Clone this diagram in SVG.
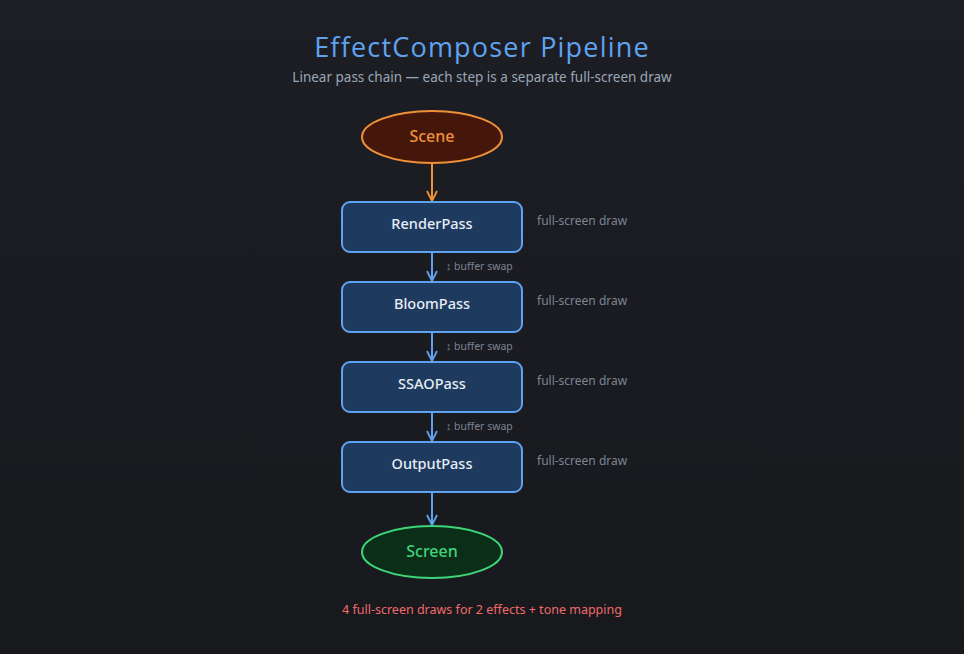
<svg xmlns="http://www.w3.org/2000/svg" width="964" height="654" viewBox="0 0 964 654">
<defs>
<linearGradient id="bg" x1="0" y1="0" x2="0" y2="1"><stop offset="0" stop-color="#1d1e24"/><stop offset="1" stop-color="#18191d"/></linearGradient>
<marker id="ab" viewBox="0 0 12 12" refX="11" refY="6" markerWidth="12" markerHeight="12" markerUnits="userSpaceOnUse" orient="auto"><path d="M1,1 L11,6 L1,11" fill="none" stroke="#5fa2f0" stroke-width="1.8"/></marker>
<marker id="ao" viewBox="0 0 12 12" refX="11" refY="6" markerWidth="12" markerHeight="12" markerUnits="userSpaceOnUse" orient="auto"><path d="M1,1 L11,6 L1,11" fill="none" stroke="#f0913a" stroke-width="1.8"/></marker>
</defs>
<style>
text{font-family:"Noto Sans","Open Sans",sans-serif;text-anchor:middle}
.box{fill:#1f3a5f;stroke:#5fa2f0;stroke-width:2}
.bl{fill:#e6edf6;font-size:14.5px;font-weight:500}
.side{fill:#7b8494;font-size:12px;text-anchor:start}
.sw{fill:#7b8494;font-size:10.5px;text-anchor:start}
.c{stroke:#5fa2f0;stroke-width:2;fill:none;marker-end:url(#ab)}
</style>
<rect width="964" height="654" fill="url(#bg)"/>
<text x="482" y="57" font-size="27" fill="#5fa2f0" letter-spacing="1.2" style="font-family:'Open Sans','Noto Sans',sans-serif">EffectComposer Pipeline</text>
<text x="482" y="82" font-size="13.5" fill="#9aa7b8">Linear pass chain — each step is a separate full-screen draw</text>
<g id="connectors">
<path d="M432,164 V201" stroke="#f0913a" stroke-width="2" fill="none" marker-end="url(#ao)"/>
<path class="c" d="M432,253 V281"/>
<path class="c" d="M432,333 V361"/>
<path class="c" d="M432,413 V441"/>
<path class="c" d="M432,493 V525"/>
<text class="sw" x="446" y="270">↕ buffer swap</text>
<text class="sw" x="446" y="350">↕ buffer swap</text>
<text class="sw" x="446" y="430">↕ buffer swap</text>
</g>
<g id="scene"><ellipse cx="432" cy="137" rx="70" ry="26" fill="#45170b" stroke="#f0913a" stroke-width="2"/><text x="432" y="142" font-size="16" font-weight="500" fill="#f0913a">Scene</text></g>
<g id="renderpass"><rect class="box" x="342" y="202" width="180" height="50" rx="8"/><text class="bl" x="432" y="229">RenderPass</text><text class="side" x="537" y="225">full-screen draw</text></g>
<g id="bloompass"><rect class="box" x="342" y="282" width="180" height="50" rx="8"/><text class="bl" x="432" y="309">BloomPass</text><text class="side" x="537" y="305">full-screen draw</text></g>
<g id="ssaopass"><rect class="box" x="342" y="362" width="180" height="50" rx="8"/><text class="bl" x="432" y="389">SSAOPass</text><text class="side" x="537" y="385">full-screen draw</text></g>
<g id="outputpass"><rect class="box" x="342" y="442" width="180" height="50" rx="8"/><text class="bl" x="432" y="469">OutputPass</text><text class="side" x="537" y="465">full-screen draw</text></g>
<g id="screen"><ellipse cx="432" cy="552" rx="70" ry="26" fill="#0b2e19" stroke="#3fd47a" stroke-width="2"/><text x="432" y="557" font-size="16" font-weight="500" fill="#3fd47a">Screen</text></g>
<text x="482" y="614" font-size="12.5" fill="#f06a6a">4 full-screen draws for 2 effects + tone mapping</text>
</svg>
